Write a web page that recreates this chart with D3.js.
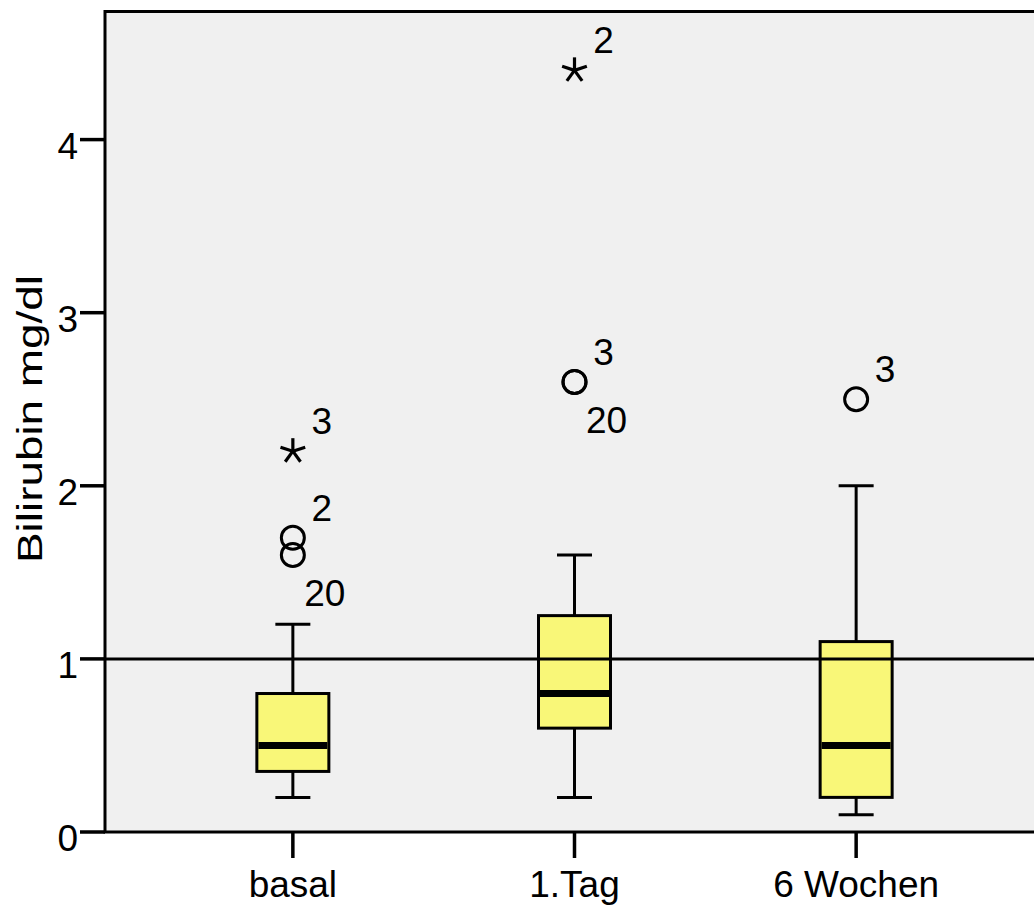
<!DOCTYPE html>
<html>
<head>
<meta charset="utf-8">
<script src="https://cdn.jsdelivr.net/npm/d3@7"></script>
<style>
  html, body { margin: 0; padding: 0; background: #ffffff; }
  svg { display: block; }
  text { font-family: "Liberation Sans", Arial, Helvetica, sans-serif; fill: #000; }
</style>
</head>
<body>
<svg id="chart" width="1034" height="906"></svg>
<script>
// Box plot summaries per time point
const categories   = ["basal", "1.Tag", "6 Wochen"];
const whiskerLow   = [0.2, 0.2, 0.1];
const quartile1    = [0.35, 0.6, 0.2];
const medians      = [0.5, 0.8, 0.5];
const quartile3    = [0.8, 1.25, 1.1];
const whiskerHigh  = [1.2, 1.6, 2.0];

// Outliers (circles) and extremes (stars) with their case numbers
const outlierGroup   = ["basal", "basal", "basal", "1.Tag", "1.Tag", "1.Tag", "6 Wochen"];
const outlierValue   = [2.2, 1.7, 1.6, 4.4, 2.6, 2.6, 2.5];
const outlierCase    = ["3", "2", "20", "2", "3", "20", "3"];
const outlierExtreme = [true, false, false, true, false, false, false];

const yTicks = [0, 1, 2, 3, 4];
const referenceValue = 1;
const yTitle = "Bilirubin mg/dl";

const svg = d3.select("#chart");

const plot = { left: 105, right: 1044, top: 11.5, bottom: 832 };

const x = d3.scalePoint()
  .domain(categories)
  .range([plot.left, plot.right])
  .padding(0.667);

const y = d3.scaleLinear()
  .domain([0, 4.74])
  .range([plot.bottom, plot.top]);

const boxWidth = 72;
const capWidth = 35;

// plot background
svg.append("rect")
  .attr("x", plot.left).attr("y", plot.top)
  .attr("width", plot.right - plot.left).attr("height", plot.bottom - plot.top)
  .attr("fill", "#f0f0f0");

// boxes
const boxes = categories.map((c, i) => ({
  cat: c, lo: whiskerLow[i], q1: quartile1[i], med: medians[i], q3: quartile3[i], hi: whiskerHigh[i]
}));

const g = svg.append("g");
boxes.forEach(b => {
  const cx = x(b.cat);
  // whiskers
  g.append("line")
    .attr("x1", cx).attr("x2", cx).attr("y1", y(b.q3)).attr("y2", y(b.hi))
    .attr("stroke", "#000").attr("stroke-width", 3);
  g.append("line")
    .attr("x1", cx).attr("x2", cx).attr("y1", y(b.q1)).attr("y2", y(b.lo))
    .attr("stroke", "#000").attr("stroke-width", 3);
  g.append("line")
    .attr("x1", cx - capWidth / 2).attr("x2", cx + capWidth / 2).attr("y1", y(b.hi)).attr("y2", y(b.hi))
    .attr("stroke", "#000").attr("stroke-width", 3);
  g.append("line")
    .attr("x1", cx - capWidth / 2).attr("x2", cx + capWidth / 2).attr("y1", y(b.lo)).attr("y2", y(b.lo))
    .attr("stroke", "#000").attr("stroke-width", 3);
  // box
  g.append("rect")
    .attr("x", cx - boxWidth / 2).attr("y", y(b.q3))
    .attr("width", boxWidth).attr("height", y(b.q1) - y(b.q3))
    .attr("fill", "#f9f778").attr("stroke", "#000").attr("stroke-width", 3);
  // median
  g.append("line")
    .attr("x1", cx - boxWidth / 2 + 1.5).attr("x2", cx + boxWidth / 2 - 1.5)
    .attr("y1", y(b.med)).attr("y2", y(b.med))
    .attr("stroke", "#000").attr("stroke-width", 7);
});

// reference line
svg.append("line")
  .attr("x1", plot.left).attr("x2", plot.right)
  .attr("y1", y(referenceValue)).attr("y2", y(referenceValue))
  .attr("stroke", "#000").attr("stroke-width", 3);

// outliers
const outliers = outlierValue.map((v, i) => ({
  cat: outlierGroup[i], value: v, label: outlierCase[i], extreme: outlierExtreme[i]
}));

// labels go above-right; a point close below its predecessor takes its label below-right
categories.forEach(c => {
  const grp = outliers.filter(o => o.cat === c).sort((a, b) => b.value - a.value);
  grp.forEach((o, k) => {
    o.below = k > 0 && (grp[k - 1].value - o.value) < 0.15;
  });
});

const og = svg.append("g");
const starArm = 13;
outliers.forEach(o => {
  const cx = x(o.cat), cy = y(o.value);
  if (o.extreme) {
    for (let k = 0; k < 5; k++) {
      const a = (-90 + 72 * k) * Math.PI / 180;
      og.append("line")
        .attr("x1", cx).attr("y1", cy)
        .attr("x2", cx + starArm * Math.cos(a)).attr("y2", cy + starArm * Math.sin(a))
        .attr("stroke", "#000").attr("stroke-width", 3.2).attr("stroke-linecap", "butt");
    }
  } else {
    og.append("circle")
      .attr("cx", cx).attr("cy", cy).attr("r", 11.5)
      .attr("fill", "none").attr("stroke", "#000").attr("stroke-width", 3);
  }
  og.append("text")
    .attr("x", cx + (o.below ? 32 : 29))
    .attr("y", cy + (o.below ? 51 : -17))
    .attr("text-anchor", "middle")
    .attr("font-size", 37)
    .text(o.label);
});

// frame
svg.append("rect")
  .attr("x", plot.left).attr("y", plot.top)
  .attr("width", plot.right - plot.left).attr("height", plot.bottom - plot.top)
  .attr("fill", "none").attr("stroke", "#000").attr("stroke-width", 3);

// y axis ticks and labels
const yAxis = svg.append("g");
yTicks.forEach(t => {
  yAxis.append("line")
    .attr("x1", plot.left - 25).attr("x2", plot.left)
    .attr("y1", y(t)).attr("y2", y(t))
    .attr("stroke", "#000").attr("stroke-width", 3.5);
  yAxis.append("text")
    .attr("x", 78).attr("y", y(t) + 19)
    .attr("text-anchor", "end")
    .attr("font-size", 37)
    .text(d3.format("d")(t));
});

// x axis ticks and labels
const xAxis = svg.append("g");
categories.forEach(c => {
  xAxis.append("line")
    .attr("x1", x(c)).attr("x2", x(c))
    .attr("y1", plot.bottom).attr("y2", plot.bottom + 26)
    .attr("stroke", "#000").attr("stroke-width", 3.5);
  xAxis.append("text")
    .attr("x", x(c)).attr("y", 897)
    .attr("text-anchor", "middle")
    .attr("font-size", 37)
    .text(c);
});

// y axis title
svg.append("text")
  .attr("transform", "translate(42,419) rotate(-90)")
  .attr("text-anchor", "middle")
  .attr("font-size", 35)
  .attr("textLength", 288)
  .attr("lengthAdjust", "spacingAndGlyphs")
  .text(yTitle);
</script>
</body>
</html>
